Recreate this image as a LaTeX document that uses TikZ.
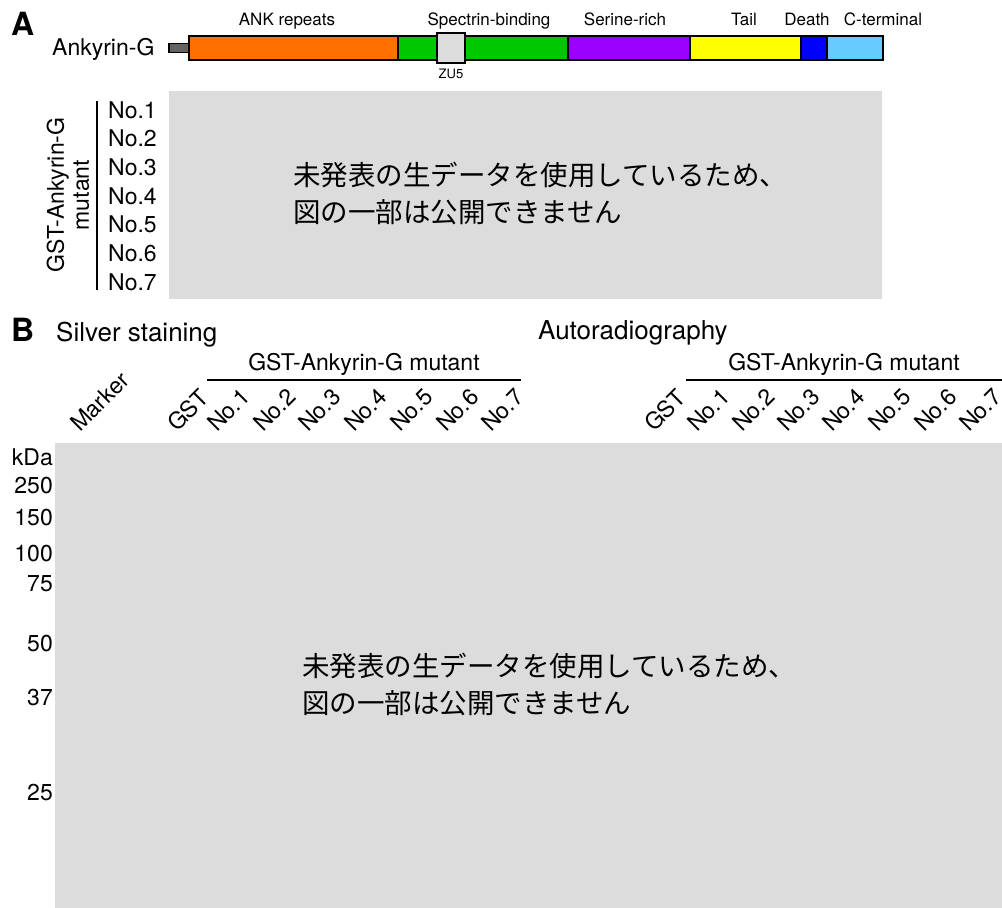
\documentclass[tikz,border=0pt]{standalone}
\usepackage{fontspec}
\setmainfont{TeX Gyre Heros}
\newfontfamily\cjk{Noto Sans CJK JP}
\definecolor{panelgrey}{RGB}{220,220,220}
\definecolor{ankorange}{RGB}{255,112,0}
\definecolor{specgreen}{RGB}{0,200,0}
\definecolor{serpurple}{RGB}{153,0,255}
\definecolor{tailyellow}{RGB}{255,255,0}
\definecolor{deathblue}{RGB}{0,0,255}
\definecolor{ctermblue}{RGB}{102,204,255}
\definecolor{zugrey}{RGB}{220,220,220}
\definecolor{stubgrey}{RGB}{100,100,100}
\begin{document}
\begin{tikzpicture}[x=1pt,y=-1pt,
  dom/.style={draw=black,line width=2pt,inner sep=0pt,minimum height=24pt,anchor=west},
  domlab/.style={font=\fontsize{17}{20}\selectfont,anchor=base,inner sep=0pt},
  lab/.style={font=\fontsize{23}{27}\selectfont,inner sep=0pt},
  big/.style={font=\fontsize{26}{30}\selectfont,inner sep=0pt},
  panel/.style={font=\fontsize{32}{36}\selectfont\bfseries,inner sep=0pt,anchor=base west},
  lane/.style={font=\fontsize{23}{27}\selectfont,inner sep=0pt,anchor=base west,rotate=45},
  jp/.style={font=\fontsize{27.5}{37}\selectfont\cjk,inner sep=0pt,align=left,anchor=north west},
  mw/.style={font=\fontsize{23}{27}\selectfont,inner sep=0pt,anchor=base east}
]
\useasboundingbox (0,0) rectangle (1002,908);

% ---------- Panel A ----------
\node[panel] (pA) at (11,35) {A};
\node[lab,anchor=base west] (ankg) at (52,55) {Ankyrin-G};
\node[draw=black,line width=1.5pt,fill=stubgrey,inner sep=0pt,minimum width=20pt,minimum height=9pt,anchor=west] (stub) at (168,48) {};
\node[dom,fill=ankorange,minimum width=209pt] (ank) at (188,48) {};
\node[dom,fill=specgreen,minimum width=170pt] (spec) at (397,48) {};
\node[dom,fill=serpurple,minimum width=122pt] (ser) at (567,48) {};
\node[dom,fill=tailyellow,minimum width=111pt] (tail) at (689,48) {};
\node[dom,fill=deathblue,minimum width=26pt] (death) at (800,48) {};
\node[dom,fill=ctermblue,minimum width=56pt] (cterm) at (826,48) {};
\node[draw=black,line width=2pt,fill=zugrey,inner sep=0pt,minimum width=28pt,minimum height=30pt] (zu5) at (451,48) {};
\node[font=\fontsize{13}{15}\selectfont,inner sep=0pt,anchor=base] (zu5lab) at (451,78) {ZU5};

\node[domlab] (lank) at (287,25) {ANK repeats};
\node[domlab] (lspec) at (489,25) {Spectrin-binding};
\node[domlab] (lser) at (625,25) {Serine-rich};
\node[domlab] (ltail) at (744,25) {Tail};
\node[domlab] (ldeath) at (807,25) {Death};
\node[domlab] (lcterm) at (883,25) {C-terminal};

\fill[panelgrey] (169,91) rectangle (882,299);
\node[jp] (jpA) at (293,162) {未発表の生データを使用しているため、\\図の一部は公開できません};

\coordinate (vtop) at (97,101);
\coordinate (vbot) at (97,290);
\draw[line width=2pt] (vtop) -- (vbot);
\foreach \i/\y in {1/118,2/146.7,3/175.3,4/204,5/232.7,6/261.3,7/290}{
  \node[lab,anchor=base west] (a\i) at (108,\y) {No.\i};
}
\node[lab,rotate=90,align=center,font=\fontsize{23}{25}\selectfont] (mutA) at (68,195) {GST-Ankyrin-G\\mutant};

% ---------- Panel B ----------
\node[panel] (pB) at (11,341) {B};
\node[big,anchor=base west] (silver) at (56,341) {Silver staining};
\node[big,anchor=base west] (auto) at (538,339) {Autoradiography};

\node[lab,anchor=base] (mutL) at (364,370) {GST-Ankyrin-G mutant};
\node[lab,anchor=base] (mutR) at (844,370) {GST-Ankyrin-G mutant};
\coordinate (lL1) at (207,380);
\coordinate (lL2) at (521,380);
\coordinate (lR1) at (686,380);
\coordinate (lR2) at (1002,380);
\draw[line width=2pt] (lL1) -- (lL2);
\draw[line width=2pt] (lR1) -- (lR2);

\node[lane] (marker) at (80,433) {Marker};
\node[lane] (gstL) at (177,433) {GST};
\foreach \i/\x in {1/217,2/263,3/308,4/354,5/400,6/446,7/491}{
  \node[lane] (l\i) at (\x,433) {No.\i};
}
\node[lane] (gstR) at (654,433) {GST};
\foreach \i/\x in {1/697,2/742,3/787,4/832,5/878,6/924,7/969}{
  \node[lane] (r\i) at (\x,433) {No.\i};
}

\fill[panelgrey] (55,443) rectangle (1002,908);
\node[jp] (jpB) at (302,653) {未発表の生データを使用しているため、\\図の一部は公開できません};

\node[mw] (kda) at (53,465) {kDa};
\node[mw] (m250) at (53,493) {250};
\node[mw] (m150) at (53,525) {150};
\node[mw] (m100) at (53,561) {100};
\node[mw] (m75) at (53,591) {75};
\node[mw] (m50) at (53,651) {50};
\node[mw] (m37) at (53,705) {37};
\node[mw] (m25) at (53,800) {25};
\end{tikzpicture}
\end{document}
